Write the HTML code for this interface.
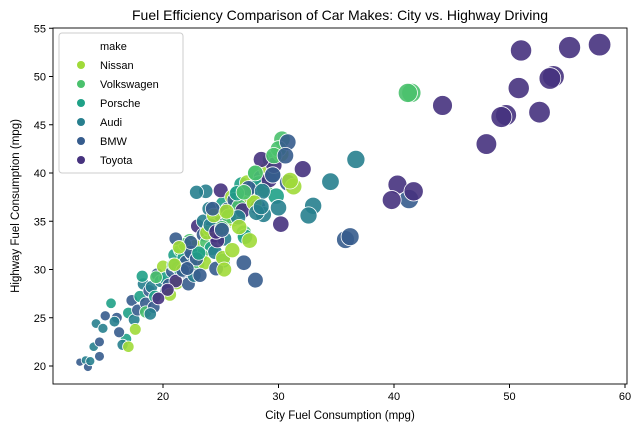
<!DOCTYPE html>
<html><head><meta charset="utf-8"><style>
body{margin:0;background:#fff;width:643px;height:433px;overflow:hidden}
svg{font-family:"Liberation Sans","DejaVu Sans",sans-serif}
</style></head><body>
<svg id="chart" width="643" height="433" xmlns="http://www.w3.org/2000/svg">
<rect width="643" height="433" fill="#fff"/>
<text x="340" y="20" text-anchor="middle" font-size="14" fill="#000">Fuel Efficiency Comparison of Car Makes: City vs. Highway Driving</text>
<g id="marks"></g>
<g id="axes"></g>
<text x="340" y="419" text-anchor="middle" font-size="11.5">City Fuel Consumption (mpg)</text>
<text transform="translate(19,206) rotate(-90)" text-anchor="middle" font-size="11.5">Highway Fuel Consumption (mpg)</text>
<g id="legend"></g>
</svg>
<script>
const makes=["Nissan","Volkswagen","Porsche","Audi","BMW","Toyota"];
const colors=["#a0da39","#4ac16d","#1fa187","#277f8e","#365c8d","#46327e"];
const xTicks=[20,30,40,50,60];
const yTicks=[20,25,30,35,40,45,50,55];
// make index per point (0=Nissan ... 5=Toyota)
const pointMake=("4343434334"+"2423432432"+"4342413243"+"4024432410"+"2413405241"+"3102534310"+"2510342013"+"4250143105"+"4210354213"+"50"+"2415030141"+"0524353140"+"2053415042"+"153240"+"33333"+"44444"+"55555555555555555"+"1111111"+"33443"+"44444444"+"00000000000").split('').map(Number);
const pointCity=[12.8,13.3,13.5,13.7,14.5,14,14.5,14.2,14.8,15,15.5,16,16.8,16.5,16.2,15.8,17,17.3,17.5,18,17.8,18.3,18.5,18.2,18.8,18.5,19,19.3,19.5,19.8,19.2,20,20.2,20.5,20.8,20.3,21,21.3,21.5,21.2,21.8,22,22.3,22.5,22,22.8,23,23.2,23.5,23,23.5,23.8,24,24.2,24.5,24,24.3,24.5,24.8,25,25.2,25,25.5,25.8,25.3,25.6,25.2,26,26.3,26.5,26.2,26.8,27,27.3,27,27.5,27.8,28,27.6,28.2,28.5,28.3,28.8,29,28.7,29.2,29.5,29.8,29.3,30,29.6,30.2,21.5,22.2,23.3,24.7,26.1,22.7,23.8,21.9,24.9,26.6,20.6,19.6,27.1,22.4,24.1,21.1,18.9,25.7,27.4,23.6,20.9,17.6,26.9,28.6,22.9,19.4,24.6,27.9,21.7,23.1,25.1,20.4,28.1,26.4,22.1,24.4,36.7,34.5,33,32.6,28.5,35.8,36.2,41.3,28,27,57.8,55.2,53.8,53.5,52.6,50.8,49.7,49.3,48,44.2,51,40.3,39.8,41.7,32.1,30.2,28.5,41.5,41.2,30.3,30,29.6,28,27,23.7,22.9,24.3,25.1,26.5,30.8,30.6,30.8,29.5,24.6,23.2,22.4,21.1,31.3,31,27.5,26.6,25.2,25.3,26,25.5,21.4,21,17];
const pointHwy=[20.4,20.6,19.9,20.5,21,22,22.5,24.4,23.9,25.2,26.5,25,22.8,22.2,23.5,24.6,25.5,26.8,24.8,27.2,25.8,28.5,26.5,29.3,27.8,25.6,28.2,27.2,29.5,28.8,26.1,30.3,29.1,28.4,29.8,27.8,31.5,30.2,32,28.6,31.2,30.8,33,31.6,29.7,32.4,34.5,31.4,33.6,30.5,35,32.8,34.2,32.2,33.5,36.3,34.5,31.8,35.3,34,36.8,38.2,35.8,35.1,33.2,36.2,30.9,37.5,36.8,38,37.2,38.8,37.5,39,33.8,37,38.5,40,37.1,36.5,39.5,38.9,38.3,40.3,35.7,39.3,39.8,37.6,41.4,36.4,40.8,42,30,28.5,31.5,33,35.2,29.4,33.8,32.6,34.8,36.5,27.4,27,33.4,31.8,34.6,28.8,25.4,35.5,38.4,30.7,30.5,23.8,36.1,38.1,31.1,29.2,33.9,36.9,29.9,31.7,34.3,27.9,35.9,37.9,30.1,35.6,41.4,39.1,36.6,35.6,36.5,33.1,33.4,37.3,28.9,30.7,53.3,53,50,49.8,46.3,48.8,46,45.8,43,47,52.7,38.8,37.2,38.1,40.4,34.7,41.4,48.3,48.3,43.5,42.5,41.8,40,38,38.1,38,36.3,34.1,35.4,43.2,41.8,39,39.8,30.1,29.4,32.8,33.2,38.6,39.2,33,34.4,31.2,30,32,36,32.3,30.5,22];
const NS="http://www.w3.org/2000/svg";
const X0=53,X1=627,Y0=28,Y1=384;
function xs(v){return 163+(v-20)*11.55;}
function ys(v){return 366-(v-20)*9.65;}
function rad(c){return 3+8.3*Math.sqrt(Math.max(0,(c-12)/46));}
const marks=document.getElementById('marks');
const n=Math.min(pointCity.length,pointHwy.length,pointMake.length);
for(let i=0;i<n;i++){
  const mk=pointMake[i]||0;
  const c=document.createElementNS(NS,'circle');
  c.setAttribute('cx',xs(pointCity[i]));c.setAttribute('cy',ys(pointHwy[i]));
  c.setAttribute('r',rad(pointCity[i]));c.setAttribute('fill',colors[mk]);
  c.setAttribute('fill-opacity','0.9');c.setAttribute('stroke','#fff');c.setAttribute('stroke-width','0.8');
  
  
  marks.appendChild(c);
}
const axes=document.getElementById('axes');
const frame=document.createElementNS(NS,'rect');
frame.setAttribute('x',X0);frame.setAttribute('y',Y0);frame.setAttribute('width',X1-X0);frame.setAttribute('height',Y1-Y0);
frame.setAttribute('fill','none');frame.setAttribute('stroke','#000');frame.setAttribute('stroke-width','0.9');


axes.appendChild(frame);
xTicks.forEach(t=>{
  const l=document.createElementNS(NS,'line');
  l.setAttribute('x1',xs(t));l.setAttribute('x2',xs(t));l.setAttribute('y1',Y1);l.setAttribute('y2',Y1+4);l.setAttribute('stroke','#000');
  
  
  axes.appendChild(l);
  const tx=document.createElementNS(NS,'text');
  tx.setAttribute('x',xs(t));tx.setAttribute('y',Y1+16);tx.setAttribute('text-anchor','middle');tx.setAttribute('font-size','11');
  tx.textContent=t;
  
  
  axes.appendChild(tx);
});
yTicks.forEach(t=>{
  const l=document.createElementNS(NS,'line');
  l.setAttribute('x1',X0-4);l.setAttribute('x2',X0);l.setAttribute('y1',ys(t));l.setAttribute('y2',ys(t));l.setAttribute('stroke','#000');
  
  
  axes.appendChild(l);
  const tx=document.createElementNS(NS,'text');
  tx.setAttribute('x',X0-7);tx.setAttribute('y',ys(t)+4);tx.setAttribute('text-anchor','end');tx.setAttribute('font-size','11');
  tx.textContent=t;
  
  
  axes.appendChild(tx);
});
const lg=document.getElementById('legend');
const box=document.createElementNS(NS,'rect');
box.setAttribute('x',59);box.setAttribute('y',33);box.setAttribute('width',124);box.setAttribute('height',140);box.setAttribute('rx',3);
box.setAttribute('fill','#fff');box.setAttribute('fill-opacity','0.8');box.setAttribute('stroke','#ccc');


lg.appendChild(box);
const ttl=document.createElementNS(NS,'text');
ttl.setAttribute('x',100);ttl.setAttribute('y',50);ttl.setAttribute('font-size','11');ttl.textContent='make';


lg.appendChild(ttl);
makes.forEach((m,i)=>{
  const y=69+i*19;
  const c=document.createElementNS(NS,'circle');
  c.setAttribute('cx',81);c.setAttribute('cy',y-4);c.setAttribute('r',4);c.setAttribute('fill',colors[i]);
  
  
  lg.appendChild(c);
  const t=document.createElementNS(NS,'text');
  t.setAttribute('x',100);t.setAttribute('y',y);t.setAttribute('font-size','11');t.textContent=m;
  
  
  lg.appendChild(t);
});
</script>
</body></html>
